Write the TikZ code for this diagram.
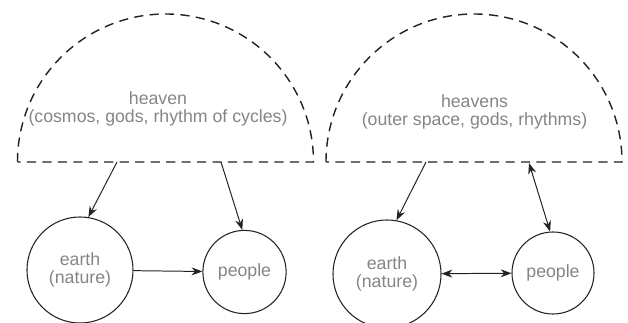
\documentclass[tikz,border=0pt]{standalone}
\usepackage{fontspec}
\setmainfont{Liberation Sans}
\definecolor{labelgray}{HTML}{858585}
\definecolor{inkblack}{HTML}{222222}
\usetikzlibrary{arrows.meta}
\tikzset{
    domeline/.style={
        draw=inkblack,
        line width=1pt,
        dash pattern=on 6.5pt off 4.5pt
    },
    domelabel/.style={
        text=labelgray,
        align=center,
        inner sep=0pt,
        font=\fontsize{12.6}{12.8}\selectfont
    },
    worldnode/.style={
        circle,
        draw=inkblack,
        line width=0.75pt,
        align=center,
        inner sep=0pt,
        text=labelgray,
        font=\fontsize{12.6}{12.8}\selectfont
    },
    worldarrow/.style={
        -{Stealth[length=2.7mm,width=2mm]},
        draw=inkblack,
        line width=0.7pt
    },
    worldboth/.style={
        worldarrow,
        {Stealth[length=2.7mm,width=2mm]}-{Stealth[length=2.7mm,width=2mm]}
    }
}

\begin{document}
\begin{tikzpicture}[x=0.025cm,y=0.025cm]
    \useasboundingbox (0,0) rectangle (628,322);

    % old view
    \draw[domeline] (17.5,160) arc[start angle=180,end angle=0,radius=148] -- cycle;
    \node[domelabel] (heaven) at (158,213)
        {heaven\\(cosmos, gods, rhythm of cycles)};
    \coordinate (heavenleft) at (117,160);
    \coordinate (heavenright) at (221,160);
    \node[worldnode,minimum size=2.65cm] (earth) at (80,52) {earth\\(nature)};
    \node[worldnode,minimum size=2.08cm] (people) at (244.5,50) {people};

    \draw[worldarrow] (heavenleft) -- (earth.81);
    \draw[worldarrow] (heavenright) -- (people.93);
    \draw[worldarrow] (earth) -- (people);

    % new view
    \draw[domeline] (326,160) arc[start angle=180,end angle=0,radius=148] -- cycle;
    \node[domelabel] (heavens) at (474.5,210)
        {heavens\\(outer space, gods, rhythms)};
    \coordinate (heavensleft) at (426,160);
    \coordinate (heavensright) at (529,159);
    \node[worldnode,minimum size=2.7cm] (earthnew) at (387,48) {earth\\(nature)};
    \node[worldnode,minimum size=2.05cm] (peoplenew) at (553,49) {people};

    \draw[worldarrow] (heavensleft) -- (earthnew.80);
    \draw[worldboth] (heavensright) -- (peoplenew.94);
    \draw[worldboth] (earthnew) -- (peoplenew);
\end{tikzpicture}
\end{document}
